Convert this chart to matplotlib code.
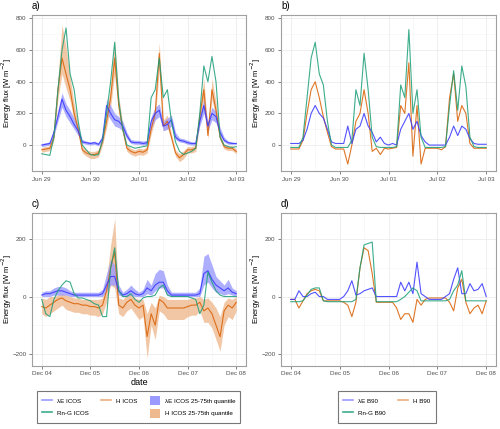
import matplotlib
matplotlib.use("Agg")
import matplotlib.pyplot as plt
from matplotlib.lines import Line2D
from matplotlib.patches import Patch
import numpy as np

plt.rcParams['font.family'] = ['Liberation Sans', 'DejaVu Sans']

# time axis: hours since first midnight, 2-hourly values
hours = np.arange(0, 97, 2)
summer_ticks = ["Jun 29", "Jun 30", "Jul 01", "Jul 02", "Jul 03"]
winter_ticks = ["Dec 04", "Dec 05", "Dec 06", "Dec 07", "Dec 08"]

# a) summer, ICOS
le_icos_sum = [0, 5, 10, 80, 180, 290, 220, 180, 130, 90, 20, 15, 10, 15, 5, 40, 250, 200, 160, 150,
               120, 60, 20, 15, 15, 10, 15, 150, 200, 220, 120, 130, 160, 50, 30, 25, 15, 10, 10, 150,
               250, 120, 200, 180, 80, 30, 15, 10, 10]
le_icos_sum_q25 = [-10, -5, 0, 60, 150, 240, 180, 140, 100, 60, 10, 5, 0, 5, -5, 20, 200, 160, 120, 110,
                   90, 40, 10, 5, 5, 0, 5, 110, 160, 180, 90, 100, 120, 35, 20, 15, 5, 0, 0, 120,
                   200, 90, 160, 140, 60, 20, 5, 5, 5]
le_icos_sum_q75 = [10, 15, 20, 100, 220, 330, 260, 220, 170, 120, 35, 25, 20, 25, 15, 70, 290, 250, 200, 180,
                   150, 80, 35, 30, 30, 25, 30, 180, 240, 260, 150, 170, 190, 80, 45, 40, 30, 20, 20, 180,
                   290, 150, 240, 210, 110, 50, 25, 20, 15]
h_icos_sum = [-30, -25, -20, 50, 350, 550, 450, 350, 200, 100, -30, -50, -60, -60, -50, 20, 150, 300, 550, 250,
              100, -20, -40, -50, -40, -45, -30, 100, 200, 580, 120, 150, 50, -50, -80, -60, -30, -30, -20, 180,
              350, 60, 350, 220, 50, -10, -20, -20, -40]
h_icos_sum_q25 = [-45, -40, -35, 30, 290, 450, 360, 280, 150, 70, -50, -70, -85, -85, -75, 0, 110, 240, 450, 200,
                  70, -40, -60, -70, -60, -65, -50, 70, 160, 480, 90, 110, 30, -70, -105, -85, -50, -50, -40, 140,
                  290, 40, 290, 170, 30, -25, -35, -35, -55]
h_icos_sum_q75 = [-15, -10, -5, 70, 420, 760, 620, 430, 260, 130, -10, -30, -40, -40, -30, 40, 190, 370, 660, 310,
                  130, 0, -20, -30, -20, -25, -10, 130, 250, 650, 160, 190, 70, -30, -55, -35, -10, -10, 0, 230,
                  420, 80, 420, 270, 70, 5, -5, -5, -25]
rng_icos_sum = [-55, -60, -65, 50, 350, 600, 740, 450, 350, 150, 0, -30, -60, -65, -60, 30, 200, 400, 650, 280,
                100, 0, -10, -20, -15, -10, -5, 300, 350, 550, 300, 350, 150, 20, -40, -60, -50, -40, -20, 200,
                500, 400, 560, 400, 50, 0, -10, -15, -10]

# b) summer, B90
le_b90_sum = [10, 10, 10, 30, 100, 200, 250, 200, 170, 100, 20, 10, 10, 10, 120, 10, 100, 120, 200, 120,
              80, 20, 50, 10, 0, 10, 0, 100, 150, 200, 100, 150, 60, 20, 0, 0, 0, 0, 0, 50,
              120, 60, 120, 100, 40, 10, 5, 5, 5]
h_b90_sum = [-25, -25, -25, 30, 200, 350, 400, 300, 180, 80, -10, -25, -25, -25, -120, 0, 150, 200, 350, 200,
             -40, -20, -60, -20, -25, -20, -15, 250, 200, 520, -70, 250, -120, -20, -20, -20, -20, -30, -10, 300,
             450, 150, 250, 200, 10, -20, -20, -20, -20]
rng_b90_sum = [-15, -15, -15, 50, 300, 550, 650, 450, 380, 150, 0, -15, -15, -15, -15, 30, 350, 250, 580, 350,
               50, -10, -15, -15, -15, -15, -10, 380, 300, 730, 200, 350, 50, -15, -15, -15, -15, -15, -10, 250,
               470, 220, 500, 370, 50, -10, -15, -15, -15]

# c) winter, ICOS
le_icos_win = [5, 10, 10, 15, 20, 20, 15, 10, 5, 5, 5, 5, 5, 5, 5, 10, 40, 70, 70, 20,
               5, 10, 20, 10, 5, 10, 30, 20, 40, 50, 50, 20, 5, 5, 5, 5, 5, 5, 5, 10,
               80, 90, 60, 40, 30, 20, 30, 15, 10]
le_icos_win_q25 = [0, 0, 0, 5, 5, 5, 5, 0, 0, 0, 0, 0, 0, 0, 0, 0, 20, 40, 40, 5,
                   0, 0, 5, 0, 0, 0, 10, 5, 20, 30, 30, 5, 0, 0, 0, 0, 0, 0, 0, 0,
                   40, 50, 30, 15, 10, 5, 10, 5, 0]
le_icos_win_q75 = [15, 20, 20, 30, 35, 35, 30, 20, 15, 15, 15, 15, 15, 15, 15, 25, 80, 130, 110, 40,
                   15, 25, 40, 25, 15, 25, 60, 40, 80, 95, 90, 40, 15, 15, 15, 15, 15, 15, 15, 30,
                   140, 150, 110, 70, 55, 40, 60, 30, 20]
h_icos_win = [-35, -40, -30, -20, -10, -5, -15, -20, -25, -25, -30, -30, -35, -35, -40, -30, 20, 100, 155, -30,
              -40, -20, -10, -30, -40, -30, -140, -60, -100, -10, -20, -40, -40, -40, -40, -40, -35, -30, -30, -20,
              -50, -40, -60, -100, -140, -50, -30, -40, -20]
h_icos_win_q25 = [-60, -70, -60, -50, -40, -30, -45, -50, -55, -55, -60, -60, -65, -65, -70, -60, -20, 40, 30, -60,
                  -70, -50, -40, -60, -80, -70, -215, -100, -150, -50, -60, -80, -80, -80, -80, -80, -70, -65, -65, -50,
                  -90, -90, -110, -150, -190, -100, -70, -80, -50]
h_icos_win_q75 = [-5, -10, 0, 0, 5, 10, 5, 0, -5, -5, -10, -10, -10, -10, -10, -5, 60, 180, 270, -5,
                  -10, 5, 10, -5, -10, -10, -60, -20, -40, 5, 0, -10, -10, -10, -10, -10, -10, -5, -5, 0,
                  -10, -5, -20, -40, -70, -20, -5, -10, 0]
rng_icos_win = [-10, -60, -70, -10, 20, 40, 55, 50, 10, -5, -5, -10, -15, -25, -30, -70, -70, 100, 170, 20,
                0, 0, 10, -10, -20, -5, 0, 0, 5, 30, 40, 5, 0, 0, 0, 0, 0, -5, -10, -60,
                -30, 85, 50, 20, 5, 0, 0, 0, 0]

# d) winter, B90
le_b90_win = [-10, -10, 20, 0, 0, 10, 15, 0, 0, -10, -10, -10, -10, 0, 20, 55, 5, 10, 20, 25,
              30, 0, 0, 0, 0, 0, 0, 50, 20, 50, 10, 120, 10, 0, -10, -10, -10, -10, 0, 10,
              60, 100, 10, 10, 45, 20, 25, 45, 0]
h_b90_win = [-10, -10, -40, -15, 10, 20, 25, 20, -15, -15, -15, -15, -15, -20, -30, -70, -20, 100, 170, 160,
             80, -20, -20, -20, -20, -20, -40, -80, -60, -60, -90, -10, -30, -10, -5, -5, -5, -5, -5, -20,
             -50, 30, 60, -20, -60, -40, -30, -60, -15]
rng_b90_win = [-18, -18, -18, -15, 5, 25, 30, 30, -15, -18, -18, -18, -18, -18, -18, -18, -10, 100, 180, 185,
               190, -18, -18, -18, -18, -18, -18, -10, 0, 15, 30, 20, -15, -15, -15, -15, -15, -15, -15, -10,
               20, 40, 90, -15, -15, -15, -15, -15, -15]

BLUE = "#3535FF"
ORANGE = "#D95F02"
GREEN = "#1B9E77"
BLUE_FILL = "#9A9AFF"
ORANGE_FILL = "#EFB98F"


def style(ax, ticklabels, ylim, yticks, label):
    ax.set_xlim(-4.8, 100.8)
    ax.set_ylim(*ylim)
    ax.set_xticks([0, 24, 48, 72, 96])
    ax.set_xticklabels(ticklabels)
    ax.set_xticks([12, 36, 60, 84], minor=True)
    ax.set_yticks(yticks)
    ax.set_yticks([(a + b) / 2 for a, b in zip(yticks[:-1], yticks[1:])], minor=True)
    ax.grid(which="major", color="#EBEBEB", lw=0.6)
    ax.grid(which="minor", color="#F4F4F4", lw=0.4)
    ax.set_axisbelow(True)
    for s in ax.spines.values():
        s.set_color("#A0A0A0")
        s.set_linewidth(0.8)
    ax.tick_params(labelsize=4.5, colors="#4D4D4D", length=2, width=0.5, pad=2)
    ax.tick_params(which="minor", length=0)
    ax.set_ylabel("Energy flux [W m$^{-2}$]", fontsize=5.5)
    ax.yaxis.set_label_coords(-0.082, 0.5)
    ax.text(0, 1.025, label, transform=ax.transAxes, fontsize=7, va="bottom")


def lines(ax, le, h, rng):
    ax.plot(hours, le, color=BLUE, lw=0.8, alpha=0.85, zorder=4)
    ax.plot(hours, h, color=ORANGE, lw=0.8, alpha=0.85, zorder=3)
    ax.plot(hours, rng, color=GREEN, lw=0.8, alpha=0.85, zorder=5)


fig = plt.figure(figsize=(5.0, 4.29), dpi=100)
ax_a = fig.add_axes([0.064, 0.601, 0.428, 0.364])
ax_b = fig.add_axes([0.562, 0.601, 0.430, 0.364])
ax_c = fig.add_axes([0.064, 0.147, 0.428, 0.357])
ax_d = fig.add_axes([0.562, 0.147, 0.430, 0.357])

ax_a.fill_between(hours, h_icos_sum_q25, h_icos_sum_q75, color=ORANGE_FILL, alpha=0.8, lw=0, zorder=1)
ax_a.fill_between(hours, le_icos_sum_q25, le_icos_sum_q75, color=BLUE_FILL, alpha=0.8, lw=0, zorder=2)
lines(ax_a, le_icos_sum, h_icos_sum, rng_icos_sum)
lines(ax_b, le_b90_sum, h_b90_sum, rng_b90_sum)

ax_c.fill_between(hours, h_icos_win_q25, h_icos_win_q75, color=ORANGE_FILL, alpha=0.8, lw=0, zorder=1)
ax_c.fill_between(hours, le_icos_win_q25, le_icos_win_q75, color=BLUE_FILL, alpha=0.8, lw=0, zorder=2)
lines(ax_c, le_icos_win, h_icos_win, rng_icos_win)
lines(ax_d, le_b90_win, h_b90_win, rng_b90_win)

style(ax_a, summer_ticks, (-165, 822), [0, 200, 400, 600, 800], "a)")
style(ax_b, summer_ticks, (-165, 822), [0, 200, 400, 600, 800], "b)")
style(ax_c, winter_ticks, (-242, 292), [-200, 0, 200], "c)")
style(ax_d, winter_ticks, (-242, 292), [-200, 0, 200], "d)")
ax_c.set_xlabel("date", fontsize=6.5, labelpad=1)

lw_leg = 1.2
h_le = Line2D([], [], color=BLUE, lw=lw_leg, alpha=0.5)
h_h = Line2D([], [], color=ORANGE, lw=lw_leg, alpha=0.5)
h_rng = Line2D([], [], color=GREEN, lw=lw_leg, alpha=0.85)
blank = Line2D([], [], color="none")
q_le = Patch(facecolor=BLUE_FILL, edgecolor="none")
q_h = Patch(facecolor=ORANGE_FILL, edgecolor="none")

leg_kw = dict(loc="center", fontsize=4.5, frameon=True, fancybox=False, edgecolor="#555555",
              handlelength=1.6, handleheight=1.8, columnspacing=2.0, labelspacing=0.6,
              borderpad=0.8, handletextpad=0.8)
l1 = fig.legend([h_le, h_rng, h_h, blank, q_le, q_h],
                ["λE ICOS", "Rn-G ICOS", "H ICOS", "", "λE ICOS 25-75th quantile", "H ICOS 25-75th quantile"],
                ncol=3, bbox_to_anchor=(0.277, 0.051), **leg_kw)
l1.get_frame().set_linewidth(0.8)
l2 = fig.legend([h_le, h_rng, h_h, blank],
                ["λE B90", "Rn-G B90", "H B90", ""],
                ncol=2, bbox_to_anchor=(0.774, 0.051), **leg_kw)
l2.get_frame().set_linewidth(0.8)

fig.savefig("out.png", dpi=100)
